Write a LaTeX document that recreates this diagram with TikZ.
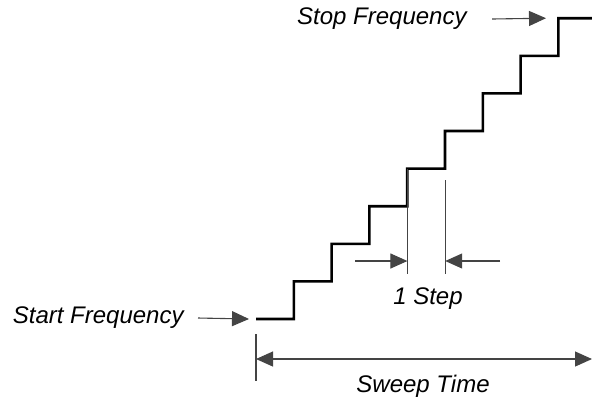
\documentclass[tikz,border=0pt]{standalone}
\usepackage{fontspec}
\setmainfont{Liberation Sans}
\usepackage{tikz}
\usetikzlibrary{
    arrows.meta,
    calc,
    positioning
}
\definecolor{leadgray}{HTML}{444444}
\tikzstyle{stair}=[
    line width=1.3pt,
    black,
    line join=miter
]
\tikzstyle{label}=[
    inner sep=0pt,
    font=\fontsize{12}{14}\selectfont\itshape
]
\tikzstyle{leader}=[
    line width=0.55pt,
    draw=leadgray
]
\tikzstyle{pointer}=[leader,-{Triangle[length=8.5pt,width=7.5pt]}]
\tikzstyle{span}=[leader,{Triangle[length=8.5pt,width=7.5pt]}-{Triangle[length=8.5pt,width=7.5pt]}]

\begin{document}
\begin{tikzpicture}[x=0.5pt,y=-0.5pt]
\useasboundingbox (0,0) rectangle (592,398);

% staircase
\coordinate (base) at (256,319);
\coordinate (top) at (592,18.2);
\draw[stair] (base) \foreach \i in {1,...,8}{ -| ++(37.8,-37.6) } -- (top);

% start and stop marks
\node[label,anchor=east] (startlbl) at (184,318) {Start Frequency};
\node[label,anchor=east] (stoplbl) at (467,19) {Stop Frequency};
\coordinate (starttip) at (249,319);
\coordinate (stoptip) at (546,18.2);
\draw[pointer] ([xshift=7pt]startlbl.east) -- (starttip);
\draw[pointer] ([xshift=12.5pt]stoplbl.east) -- (stoptip);

% one step
\coordinate (stepa) at (407.4,168.6);
\coordinate (stepb) at (445.2,180);
\coordinate (stepaend) at (407.4,274);
\coordinate (stepbend) at (445.2,274);
\draw[leader] (stepa) -- (stepaend);
\draw[leader] (stepb) -- (stepbend);
\coordinate (stepl) at (355,261);
\coordinate (stepr) at (500,261);
\draw[pointer] (stepl) -- (stepa |- stepl);
\draw[pointer] (stepr) -- (stepb |- stepr);
\node[label] (steplbl) at (428,299) {1 Step};

% sweep time
\coordinate (sweeptop) at (256,334);
\coordinate (sweepbot) at (256,381);
\draw[leader] (sweeptop) -- (sweepbot);
\coordinate (sweepl) at (256,359);
\coordinate (sweepr) at (592,359);
\draw[span] (sweepl) -- (sweepr);
\node[label] (sweeplbl) at (423,386) {Sweep Time};
\end{tikzpicture}
\end{document}
